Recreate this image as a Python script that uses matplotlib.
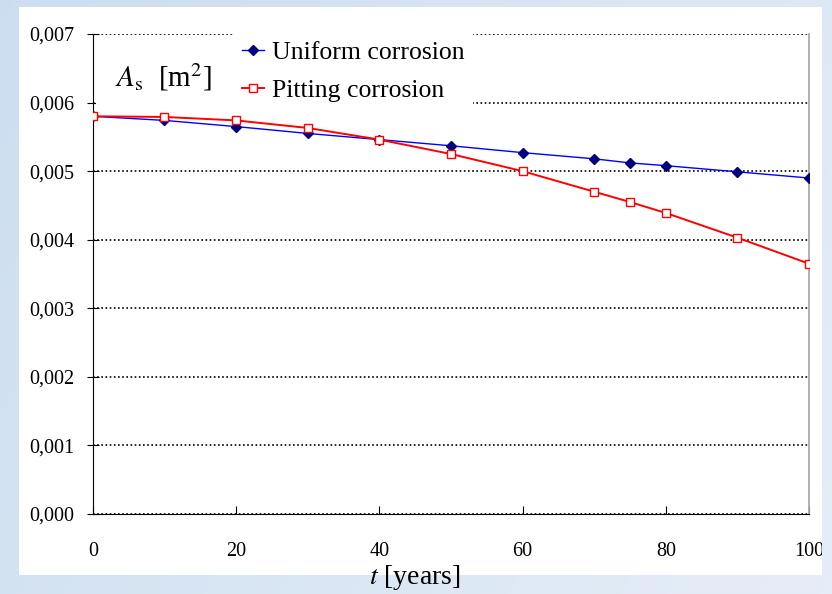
import numpy as np
import matplotlib
matplotlib.use("Agg")
import matplotlib.pyplot as plt
from matplotlib.patches import Rectangle
from matplotlib.ticker import FuncFormatter

plt.rcParams['font.family'] = ['Liberation Serif', 'DejaVu Serif']
plt.rcParams['mathtext.fontset'] = 'stix'

# data
years = [0, 10, 20, 30, 40, 50, 60, 70, 75, 80, 90, 100]
uniform = [0.00580, 0.00574, 0.00565, 0.00555, 0.00546, 0.00537,
           0.00527, 0.00518, 0.00512, 0.00508, 0.00499, 0.00490]
pitting = [0.00580, 0.00579, 0.00574, 0.00563, 0.00546, 0.00525,
           0.00500, 0.00470, 0.00455, 0.00439, 0.00403, 0.00365]
y_ticks = [0.000, 0.001, 0.002, 0.003, 0.004, 0.005, 0.006, 0.007]
x_ticks = [0, 20, 40, 60, 80, 100]

fig = plt.figure(figsize=(8.32, 5.94), dpi=100)

# light blue gradient background
bg = fig.add_axes([0, 0, 1, 1], zorder=-10)
gx, gy = np.meshgrid(np.linspace(0, 1, 200), np.linspace(0, 1, 200))
c1 = np.array([0.80, 0.87, 0.94])
c2 = np.array([0.90, 0.93, 0.97])
t = (0.7 * gx + 0.3 * gy)[..., None]
bg.imshow(c1 * (1 - t) + c2 * t, aspect='auto', extent=[0, 1, 0, 1])
bg.axis('off')

# white chart panel
panel = Rectangle((19 / 832, 1 - 575 / 594), 803 / 832, 568 / 594,
                  transform=fig.transFigure, facecolor='white',
                  edgecolor='none', zorder=-5)
fig.patches.append(panel)

ax = fig.add_axes([92.8 / 832, 1 - 514 / 594, 716.2 / 832, 480 / 594])
ax.patch.set_alpha(0)

ax.plot(years, uniform, color='blue', lw=1, marker='D', markersize=5,
        markerfacecolor='#000080', markeredgecolor='#000080',
        label='Uniform corrosion', zorder=3)
ax.plot(years, pitting, color='red', lw=1.4, marker='s', markersize=6,
        markerfacecolor='white', markeredgecolor='red', markeredgewidth=1,
        label='Pitting corrosion', zorder=4)

ax.set_xlim(0, 100)
ax.set_ylim(0, 0.007)
ax.set_xticks(x_ticks)
ax.set_yticks(y_ticks)
ax.yaxis.set_major_formatter(FuncFormatter(lambda v, p: f"{v:.3f}".replace('.', ',')))
ax.yaxis.grid(True, linestyle=(0, (1, 1.5)), color='black', lw=1.2)
ax.set_axisbelow(True)

ax.spines['top'].set_visible(False)
ax.spines['right'].set_color('#aaaaaa')
ax.spines['right'].set_linewidth(1.3)
ax.tick_params(axis='y', direction='inout', length=8, labelsize=14.5, pad=9)
ax.tick_params(axis='x', direction='in', length=6, labelsize=14.5, pad=20)

for lab in ax.get_xticklabels():
    lab.set_clip_path(panel)

# white cover behind the y label text
ax.add_patch(Rectangle((0.0045, 0.846), 0.1915, 0.148, transform=ax.transAxes,
                       facecolor='white', edgecolor='none', zorder=2.5))
ax.text(115 / 832, 1 - 77 / 594, r'$A_\mathrm{s}$  [m$^2$]', fontsize=21,
        transform=fig.transFigure, ha='left', va='center', zorder=6)

leg = ax.legend(loc='upper left', bbox_to_anchor=(233 / 832, 1 - 32 / 594),
                bbox_transform=fig.transFigure, fontsize=18.5, frameon=True,
                fancybox=False, framealpha=1, edgecolor='white',
                borderaxespad=0, borderpad=0.35, handlelength=0.85,
                handletextpad=0.3, labelspacing=0.6)
leg.get_frame().set_linewidth(0)

fig.text(415 / 832, 1 - 578 / 594, r'$t$ [years]', fontsize=20,
         ha='center', va='center')

fig.savefig('out.png', dpi=100)
